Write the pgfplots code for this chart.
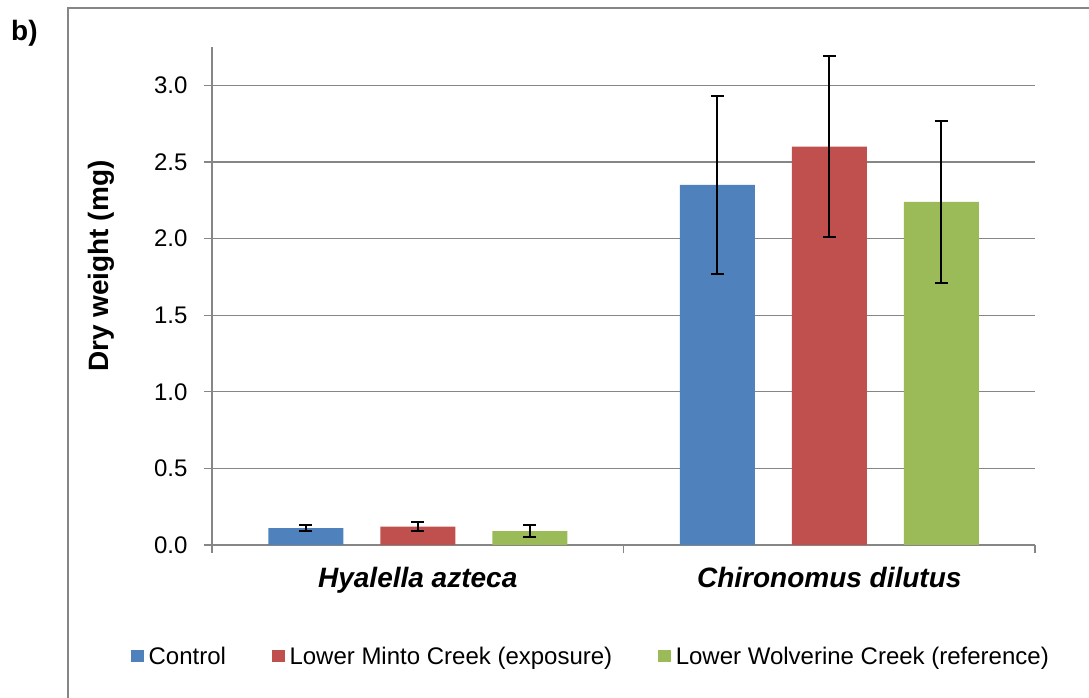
\documentclass[border=0pt]{standalone}
\usepackage{fontspec}
\setmainfont{Liberation Sans}
\usepackage{pgfplots}
\pgfplotsset{compat=1.18}
\definecolor{cblue}{HTML}{4F81BD}
\definecolor{cred}{HTML}{C0504D}
\definecolor{cgreen}{HTML}{9BBB59}
\definecolor{axgray}{HTML}{868686}
\begin{document}
\begin{tikzpicture}[x=1pt,y=1pt]
\path[use as bounding box] (0,0) rectangle (1089,698);
\draw[axgray, line width=1.5pt] (68,0) -- (68,690) -- (1089,690);
\node[font=\fontsize{28}{32}\selectfont\bfseries, anchor=base west, inner sep=0pt] at (11,657) {b)};
\begin{axis}[
  at={(212pt,153pt)}, anchor=south west,
  scale only axis, width=823pt, height=498pt,
  xmin=-0.5, xmax=1.5, ymin=0, ymax=3.25,
  ybar=37pt, bar width=75pt,
  axis x line*=bottom, axis y line*=left,
  axis line style={axgray, line width=1.3pt, -},
  tick style={axgray, line width=1.3pt},
  tick align=outside, major tick length=8pt,
  xtick={-0.5,0.5,1.5}, xticklabels={},
  extra x ticks={0,1},
  extra x tick labels={Hyalella azteca, Chironomus dilutus},
  extra x tick style={major tick length=0pt,
    xticklabel style={font=\fontsize{28}{32}\selectfont\bfseries\itshape, anchor=base, yshift=-43pt}},
  ytick={0,0.5,1.0,1.5,2.0,2.5,3.0},
  ymajorgrids, grid style={axgray, line width=1.3pt},
  yticklabel style={/pgf/number format/.cd, fixed, fixed zerofill, precision=1, /tikz/.cd,
    font=\fontsize{24}{28}\selectfont, xshift=-13pt},
  /pgf/number format/assume math mode=true,
  ylabel={Dry weight (mg)},
  ylabel style={font=\fontsize{28}{32}\selectfont\bfseries, at={(axis description cs:-0.135,0.56)}, anchor=center},
  legend columns=3,
  legend style={draw=none, at={(axis description cs:0.4605,-0.223)}, anchor=center,
    font=\fontsize{24}{28}\selectfont, nodes={inner sep=2pt},
    /tikz/every odd column/.append style={column sep=3pt},
    /tikz/every even column/.append style={column sep=44pt}},
  legend image code/.code={\fill[#1] (0pt,-6.25pt) rectangle (12.5pt,6.25pt);},
]
\addplot[fill=cblue, draw=none, error bars/.cd, y dir=both, y explicit,
  error bar style={black, line width=2pt},
  error mark options={rotate=90, black, mark size=6.5pt, line width=2pt}]
  coordinates {(0,0.11) +- (0,0.02) (1,2.35) +- (0,0.58)};
\addplot[fill=cred, draw=none, error bars/.cd, y dir=both, y explicit,
  error bar style={black, line width=2pt},
  error mark options={rotate=90, black, mark size=6.5pt, line width=2pt}]
  coordinates {(0,0.12) +- (0,0.03) (1,2.60) +- (0,0.59)};
\addplot[fill=cgreen, draw=none, error bars/.cd, y dir=both, y explicit,
  error bar style={black, line width=2pt},
  error mark options={rotate=90, black, mark size=6.5pt, line width=2pt}]
  coordinates {(0,0.09) +- (0,0.04) (1,2.24) +- (0,0.53)};
\legend{Control, Lower Minto Creek (exposure), Lower Wolverine Creek (reference)}
\end{axis}
\end{tikzpicture}
\end{document}
